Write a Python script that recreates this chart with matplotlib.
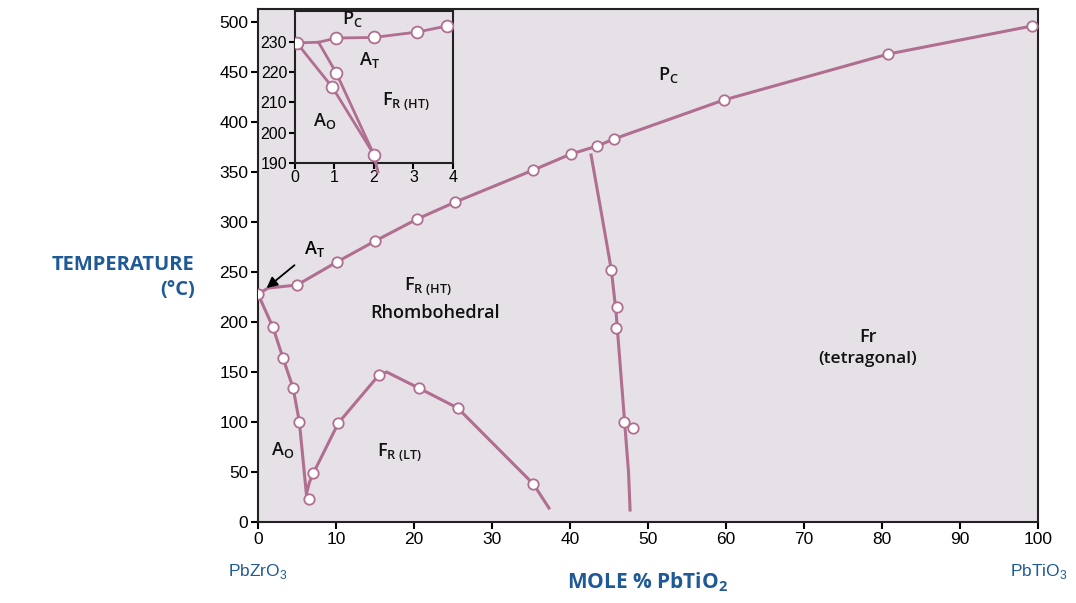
import matplotlib.pyplot as plt

LINE = "#b06e90"
BG = "#e6e1e6"
BLUE = "#1f5a96"

# Paraelectric cubic boundary (upper line)
pc_x = [0, 1.3, 5, 10.1, 15, 20.4, 25.3, 35.3, 40.1, 43.5, 45.6, 59.7, 80.8, 99.2]
pc_t = [228, 234, 237, 260, 281, 303, 320, 352, 368, 376, 383, 422, 468, 496]
pc_mx = [0, 5, 10.1, 15, 20.4, 25.3, 35.3, 40.1, 43.5, 45.6, 59.7, 80.8, 99.2]
pc_mt = [228, 237, 260, 281, 303, 320, 352, 368, 376, 383, 422, 468, 496]

# Morphotropic boundary (near vertical)
mpb_x = [42.7, 44.0, 45.3, 45.9, 46.5, 47.0, 47.5, 47.7]
mpb_t = [367, 310, 252, 210, 150, 100, 50, 12]
mpb_mx = [45.3, 46.0, 45.9, 46.9, 48.1]
mpb_mt = [252, 215, 194, 100, 94]

# AO / FR boundary, then FR(HT) / FR(LT) boundary
ao_x = [0, 1.9, 3.2, 4.5, 5.3, 5.8, 6.2, 6.6, 7.1, 10.3, 15.5, 16.5, 20.6, 25.6, 35.3, 37.3]
ao_t = [228, 195, 164, 134, 100, 60, 28, 40, 49, 99, 147, 150, 134, 114, 38, 14]
ao_mx = [1.9, 3.2, 4.5, 5.3, 6.5, 7.1, 10.3, 15.5, 20.6, 25.6, 35.3]
ao_mt = [195, 164, 134, 100, 23, 49, 99, 147, 134, 114, 38]

# Inset (0-4 mol %)
in_pc_x = [0, 0.6, 1.05, 2.0, 3.1, 3.85]
in_pc_t = [229.7, 229.9, 231.3, 231.5, 233.3, 235.3]
in_pc_mx = [0.05, 1.05, 2.0, 3.1, 3.85]
in_pc_mt = [229.7, 231.3, 231.5, 233.3, 235.3]
in_a_x = [0.05, 0.95, 2.0, 2.1]
in_a_t = [229.7, 215, 192.7, 187]
in_b_x = [0.6, 1.05, 2.0, 2.1]
in_b_t = [229.9, 219.7, 192.7, 187]
in_mx = [1.05, 0.95, 2.0]
in_mt = [219.7, 215, 192.7]

x_ticks = [0, 10, 20, 30, 40, 50, 60, 70, 80, 90, 100]
y_ticks = [0, 50, 100, 150, 200, 250, 300, 350, 400, 450, 500]
in_x_ticks = [0, 1, 2, 3, 4]
in_y_ticks = [190, 200, 210, 220, 230]

plt.rcParams["font.family"] = ["Open Sans", "DejaVu Sans"]
TICKFONT = ["Liberation Sans Narrow", "Liberation Sans", "DejaVu Sans"]

fig = plt.figure(figsize=(10.76, 6.03), dpi=100)
ax = fig.add_axes([0.2398, 0.1343, 0.7249, 0.8507])
ax.set_facecolor(BG)

mk = dict(marker="o", ms=7.5, mfc="white", mec=LINE, mew=1.3, ls="none", zorder=4)
ax.plot(pc_x, pc_t, color=LINE, lw=2.2, zorder=3)
ax.plot(pc_mx, pc_mt, **mk)
ax.plot(mpb_x, mpb_t, color=LINE, lw=2.2, zorder=3)
ax.plot(mpb_mx, mpb_mt, **mk)
ax.plot(ao_x, ao_t, color=LINE, lw=2.2, zorder=3)
ax.plot(ao_mx, ao_mt, **mk)

ax.set_xlim(0, 100)
ax.set_ylim(0, 513)
ax.set_xticks(x_ticks)
ax.set_yticks(y_ticks)
ax.tick_params(direction="out", length=5, width=1.5, labelsize=12.5, pad=2)
for lab in ax.get_xticklabels() + ax.get_yticklabels():
    lab.set_family(TICKFONT)
for s in ax.spines.values():
    s.set_linewidth(1.5)
    s.set_color("#222222")

# region labels
txt = dict(fontsize=13, fontweight="semibold", color="#111111",
           ha="center", va="center")
ax.text(52.6, 447, r"P$_\mathregular{C}$", **txt)
ax.text(21.8, 236, r"F$_\mathregular{R\ (HT)}$", **txt)
ax.text(22.7, 209, "Rhombohedral", **txt)
ax.text(78.2, 185, "Fr", **txt)
ax.text(78.2, 163, "(tetragonal)", **dict(txt, fontsize=12.5))
ax.text(3.1, 72, r"A$_\mathregular{O}$", **txt)
ax.text(18.2, 70, r"F$_\mathregular{R\ (LT)}$", **txt)
ax.annotate(r"A$_\mathregular{T}$", xy=(1.1, 234), xytext=(7.2, 273),
            fontsize=13, fontweight="semibold", ha="center", va="center",
            arrowprops=dict(arrowstyle="-|>", color="black", lw=1.3,
                            mutation_scale=16, shrinkA=6, shrinkB=0))

# axis titles
fig.text(0.181, 0.561, "TEMPERATURE", fontsize=14.5, fontweight="bold",
         color=BLUE, ha="right", va="center")
fig.text(0.181, 0.519, "(°C)", fontsize=14.5, fontweight="bold",
         color=BLUE, ha="right", va="center")
fig.text(0.602, 0.035, r"MOLE % PbTiO$_\mathregular{2}$", fontsize=15,
         fontweight="bold", color=BLUE, ha="center", va="center")
fig.text(0.240, 0.052, r"PbZrO$_\mathregular{3}$", fontsize=12.5,
         color=BLUE, ha="center", va="center", family=TICKFONT)
fig.text(0.965, 0.052, r"PbTiO$_\mathregular{3}$", fontsize=12.5,
         color=BLUE, ha="center", va="center", family=TICKFONT)

# inset
ins = fig.add_axes([0.274, 0.730, 0.147, 0.252])
ins.set_facecolor(BG)
mk_in = dict(mk, ms=8.5)
ins.plot(in_pc_x, in_pc_t, color=LINE, lw=2.0, zorder=3)
ins.plot(in_pc_mx, in_pc_mt, **mk_in)
ins.plot(in_a_x, in_a_t, color=LINE, lw=2.0, zorder=3, clip_on=False)
ins.plot(in_b_x, in_b_t, color=LINE, lw=2.0, zorder=3, clip_on=False)
ins.plot(in_mx, in_mt, **mk_in)
ins.set_xlim(0, 4)
ins.set_ylim(190, 240.3)
ins.set_xticks(in_x_ticks)
ins.set_yticks(in_y_ticks)
ins.tick_params(direction="out", length=4, width=1.5, labelsize=11.5, pad=1.5)
for lab in ins.get_xticklabels() + ins.get_yticklabels():
    lab.set_family(TICKFONT)
for s in ins.spines.values():
    s.set_linewidth(1.5)
    s.set_color("#222222")
ins.text(1.45, 237.5, r"P$_\mathregular{C}$", **txt)
ins.text(1.9, 224, r"A$_\mathregular{T}$", **txt)
ins.text(2.8, 210.5, r"F$_\mathregular{R\ (HT)}$", **txt)
ins.text(0.75, 204, r"A$_\mathregular{O}$", **txt)

fig.savefig("out.png", dpi=100)
